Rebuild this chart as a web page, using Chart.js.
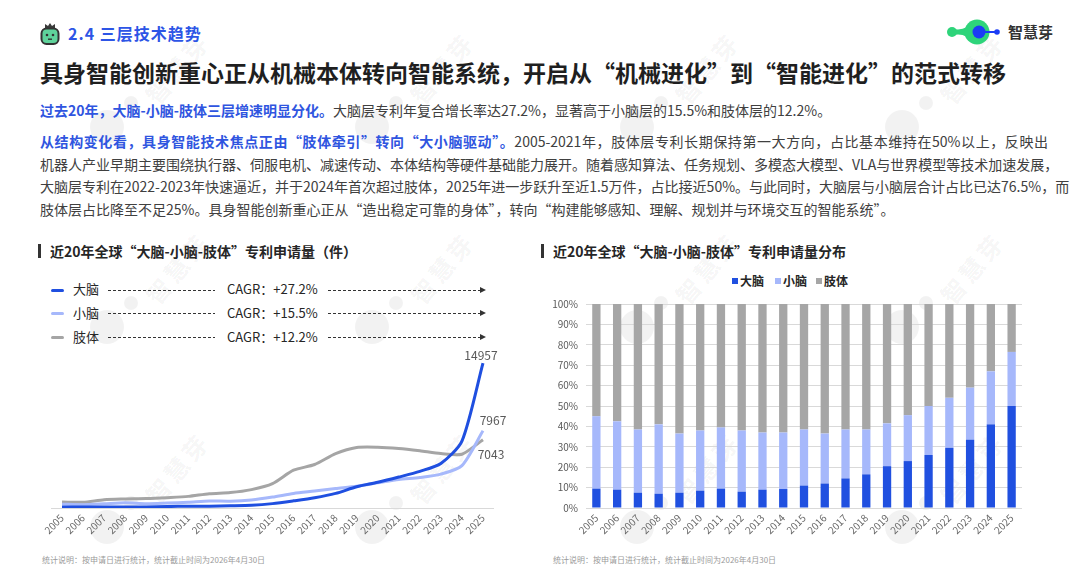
<!DOCTYPE html>
<html lang="zh-CN">
<head>
<meta charset="utf-8">
<script src="https://cdn.jsdelivr.net/npm/chart.js@4.4.1/dist/chart.umd.min.js"></script>
<style>
  html, body { margin: 0; padding: 0; }
  body {
    width: 1080px; height: 570px; position: relative; overflow: hidden;
    background: #fff; font-family: "Noto Sans CJK SC", "Noto Sans", sans-serif; color: #404040;
  }
  .abs { position: absolute; white-space: nowrap; }
  .wm { position: absolute; font-size: 24px; font-weight: 700; color: rgba(0,0,0,0.055);
        transform: rotate(-50deg); letter-spacing: 4px; }
  .blob { position: absolute; width: 34px; height: 34px; border-radius: 50%; background: rgba(0,0,0,0.05); }
  .blob::after { content: ""; position: absolute; width: 14px; height: 14px; border-radius: 50%;
        background: rgba(0,0,0,0.05); left: 34px; top: -14px; }
  .para { position: absolute; left: 40px; width: 1008px; font-size: 14px; line-height: 22.5px; }
  .para div { text-align: justify; text-align-last: justify; white-space: nowrap; }
  .para div.last { text-align-last: left; }
  .hl { color: #2f55e0; font-weight: 700; }
  .ctitle { font-size: 14px; font-weight: 700; color: #262626; line-height: 20px; }
  .cbar { position: absolute; width: 3px; height: 14px; background: #333; }
  .lg-mark { position: absolute; width: 13px; height: 3px; border-radius: 2px; }
  .lg-text { font-size: 13px; color: #262626; line-height: 18px; }
  .dots { position: absolute; height: 1px;
          background-image: linear-gradient(to right, #333 55%, transparent 55%); background-size: 5px 1px; }
  .arrow { position: absolute; width: 0; height: 0; border-top: 3.5px solid transparent;
           border-bottom: 3.5px solid transparent; border-left: 6px solid #333; }
  .sq { position: absolute; width: 6px; height: 6px; }
  .foot { font-size: 8px; color: #9a9a9a; line-height: 12px; }
</style>
</head>
<body>
<div id="wm"></div>

<!-- header -->
<svg class="abs" style="left:40px;top:22px" width="20" height="24" viewBox="0 0 20 24">
  <path d="M5 6 L5 2 L8 4 L10 1 L12 4 L15 2 L15 6 Z" fill="#3a3a3a"/>
  <rect x="1.5" y="6.5" width="17" height="15.5" rx="5" fill="#5fd39b" stroke="#333" stroke-width="2"/>
  <circle cx="7" cy="13" r="1.3" fill="#333"/>
  <circle cx="13" cy="13" r="1.3" fill="#333"/>
  <rect x="8" y="16.5" width="4" height="1.4" fill="#333"/>
</svg>
<div class="abs" style="left:68px;top:23px;font-size:16px;font-weight:700;color:#2d55e6;letter-spacing:1px;line-height:20px">2.4 三层技术趋势</div>

<svg class="abs" style="left:945px;top:19px" width="60" height="26" viewBox="0 0 60 26">
  <circle cx="7" cy="13" r="5" fill="#2ed47a"/>
  <path d="M7 9.5 Q15 12 22 8 L22 18 Q15 14 7 16.5 Z" fill="#2ed47a"/>
  <circle cx="32" cy="13" r="12.5" fill="#2ed47a"/>
  <circle cx="34" cy="13" r="6.5" fill="#1b3cf5"/>
  <rect x="38" y="12" width="12" height="2" fill="#1b3cf5"/>
  <circle cx="52" cy="13" r="2.8" fill="#1b3cf5"/>
</svg>
<div class="abs" style="left:1008px;top:22px;font-size:15px;font-weight:700;color:#333;line-height:20px">智慧芽</div>

<div class="abs" style="left:40px;top:58px;font-size:23px;font-weight:700;color:#1f1f1f;line-height:28px">具身智能创新重心正从机械本体转向智能系统，开启从“机械进化”到“智能进化”的范式转移</div>

<div class="para" style="top:99px">
  <div class="last"><span class="hl">过去20年，大脑-小脑-肢体三层增速明显分化。</span>大脑层专利年复合增长率达27.2%，显著高于小脑层的15.5%和肢体层的12.2%。</div>
</div>
<div class="para" style="top:130px">
  <div><span class="hl">从结构变化看，具身智能技术焦点正由“肢体牵引”转向“大小脑驱动”。</span>2005-2021年，肢体层专利长期保持第一大方向，占比基本维持在50%以上，反映出</div>
  <div>机器人产业早期主要围绕执行器、伺服电机、减速传动、本体结构等硬件基础能力展开。随着感知算法、任务规划、多模态大模型、VLA与世界模型等技术加速发展，</div>
  <div>大脑层专利在2022-2023年快速逼近，并于2024年首次超过肢体，2025年进一步跃升至近1.5万件，占比接近50%。与此同时，大脑层与小脑层合计占比已达76.5%，而</div>
  <div class="last">肢体层占比降至不足25%。具身智能创新重心正从“造出稳定可靠的身体”，转向“构建能够感知、理解、规划并与环境交互的智能系统”。</div>
</div>

<!-- left chart -->
<div class="cbar" style="left:38px;top:244px"></div>
<div class="abs ctitle" style="left:50px;top:241px">近20年全球“大脑-小脑-肢体”专利申请量（件）</div>

<div class="lg-mark" style="left:51px;top:289px;background:#1f4fe0"></div>
<div class="abs lg-text" style="left:73px;top:280px">大脑</div>
<div class="dots" style="left:108px;top:290px;width:107px"></div>
<div class="abs lg-text" style="left:227px;top:280px">CAGR：+27.2%</div>
<div class="dots" style="left:328px;top:290px;width:152px"></div>
<div class="arrow" style="left:480px;top:287px"></div>

<div class="lg-mark" style="left:51px;top:312px;background:#a6b8fb"></div>
<div class="abs lg-text" style="left:73px;top:304px">小脑</div>
<div class="dots" style="left:108px;top:313px;width:107px"></div>
<div class="abs lg-text" style="left:227px;top:304px">CAGR：+15.5%</div>
<div class="dots" style="left:328px;top:313px;width:152px"></div>
<div class="arrow" style="left:480px;top:310px"></div>

<div class="lg-mark" style="left:51px;top:336px;background:#a5a5a5"></div>
<div class="abs lg-text" style="left:73px;top:328px">肢体</div>
<div class="dots" style="left:108px;top:337px;width:107px"></div>
<div class="abs lg-text" style="left:227px;top:328px">CAGR：+12.2%</div>
<div class="dots" style="left:328px;top:337px;width:152px"></div>
<div class="arrow" style="left:480px;top:334px"></div>

<div class="abs" style="left:30px;top:340px;width:480px;height:205px"><canvas id="lineChart"></canvas></div>
<div class="abs foot" style="left:42px;top:554px">统计说明：按申请日进行统计，统计截止时间为2026年4月30日</div>

<!-- right chart -->
<div class="cbar" style="left:541px;top:244px"></div>
<div class="abs ctitle" style="left:553px;top:241px">近20年全球“大脑-小脑-肢体”专利申请量分布</div>

<div class="sq" style="left:732px;top:278px;background:#2050e0"></div>
<div class="abs" style="left:740px;top:272px;font-size:12px;font-weight:700;color:#262626;line-height:18px">大脑</div>
<div class="sq" style="left:775px;top:278px;background:#a6b8fb"></div>
<div class="abs" style="left:783px;top:272px;font-size:12px;font-weight:700;color:#262626;line-height:18px">小脑</div>
<div class="sq" style="left:816px;top:278px;background:#a6a6a6"></div>
<div class="abs" style="left:824px;top:272px;font-size:12px;font-weight:700;color:#262626;line-height:18px">肢体</div>

<div class="abs" style="left:540px;top:290px;width:490px;height:255px"><canvas id="barChart"></canvas></div>
<div class="abs foot" style="left:553px;top:554px">统计说明：按申请日进行统计，统计截止时间为2026年4月30日</div>

<script>
const YEARS = ['2005', '2006', '2007', '2008', '2009', '2010', '2011', '2012', '2013', '2014', '2015',
    '2016', '2017', '2018', '2019', '2020', '2021', '2022', '2023', '2024', '2025'];

// patent counts
const BRAIN = [107, 92, 105, 110, 115, 147, 188, 191, 227, 280, 451, 737, 1059, 1508, 2190, 2650, 3193, 3784, 4592, 6895, 14957];
const CEREBELLUM = [400, 344, 433, 536, 443, 509, 595, 716, 707, 835, 1127, 1505, 1752, 2010, 2244, 2593, 2947, 3142, 3495, 4373, 7967];
const LIMB = [620, 590, 860, 930, 970, 1070, 1200, 1480, 1590, 1900, 2520, 3900, 4490, 5620, 6250, 6280, 6140, 5900, 5620, 5550, 7043];

// share, %
const BRAIN_PCT = [9.5, 9, 7.5, 7, 7.5, 8.5, 9.5, 8, 9, 9.3, 11, 12, 14.5, 16.5, 20.5, 23, 26, 29.5, 33.5, 41, 50];
const CEREBELLUM_PCT = [35.5, 33.5, 31, 34, 29, 29.5, 30, 30, 28, 27.7, 27.5, 24.5, 24, 22, 21, 22.5, 24, 24.5, 25.5, 26, 26.5];
const LIMB_PCT = [55, 57.5, 61.5, 59, 63.5, 62, 60.5, 62, 63, 63, 61.5, 63.5, 61.5, 61.5, 58.5, 54.5, 50, 46, 41, 33, 23.5];

const BLUE = '#1f4fe0';
const LIGHT = '#a6b8fb';
const GRAY = '#a5a5a5';
const FONT = '"Noto Sans CJK SC", "Noto Sans", sans-serif';

// faint watermark tiles
const wm = document.getElementById('wm');
for (let r = 0; r < 3; r++) {
    for (let c = 0; c < 4; c++) {
        const x = 135 + c * 265, y = 50 + r * 200;
        const t = document.createElement('div');
        t.className = 'wm';
        t.textContent = '智慧芽';
        t.style.left = x + 'px';
        t.style.top = y + 'px';
        wm.appendChild(t);
        const b = document.createElement('div');
        b.className = 'blob';
        b.style.left = (x - 45) + 'px';
        b.style.top = (y + 60) + 'px';
        wm.appendChild(b);
    }
}

// value at the end of each line
const END_OFFSETS = {'大脑': [-2, -8], '小脑': [10, -10], '肢体': [8, 15]};
const endLabels = {
    id: 'endLabels',
    afterDatasetsDraw(chart) {
        const ctx = chart.ctx;
        ctx.save();
        ctx.font = '12px ' + FONT;
        ctx.fillStyle = '#595959';
        ctx.textAlign = 'center';
        ctx.textBaseline = 'middle';
        chart.data.datasets.forEach((ds, i) => {
            const pts = chart.getDatasetMeta(i).data;
            const p = pts[pts.length - 1];
            const [dx, dy] = END_OFFSETS[ds.label];
            ctx.fillText(String(ds.data[ds.data.length - 1]), p.x + dx, p.y + dy);
        });
        ctx.restore();
    }
};

const tickFont = {family: FONT, size: 10};

new Chart(document.getElementById('lineChart'), {
    type: 'line',
    data: {
        labels: YEARS,
        datasets: [
            {label: '大脑', data: BRAIN, borderColor: BLUE, backgroundColor: BLUE},
            {label: '小脑', data: CEREBELLUM, borderColor: LIGHT, backgroundColor: LIGHT},
            {label: '肢体', data: LIMB, borderColor: GRAY, backgroundColor: GRAY},
        ]
    },
    options: {
        responsive: true,
        maintainAspectRatio: false,
        animation: false,
        layout: {padding: {top: 13, left: 21.5, right: 16.5, bottom: 0}},
        elements: {
            line: {borderWidth: 3, tension: 0.25},
            point: {radius: 0}
        },
        scales: {
            x: {
                offset: true,
                grid: {display: false, drawTicks: false},
                border: {display: true, color: '#d9d9d9', width: 1},
                ticks: {color: '#666', font: tickFont, minRotation: 45, maxRotation: 45, padding: 4, autoSkip: false},
                afterFit: axis => { axis.height = 37; }
            },
            y: {display: false, min: 0, max: 16000}
        },
        plugins: {legend: {display: false}, tooltip: {enabled: false}}
    },
    plugins: [endLabels]
});

new Chart(document.getElementById('barChart'), {
    type: 'bar',
    data: {
        labels: YEARS,
        datasets: [
            {label: '大脑', data: BRAIN_PCT, backgroundColor: '#2050e0'},
            {label: '小脑', data: CEREBELLUM_PCT, backgroundColor: LIGHT},
            {label: '肢体', data: LIMB_PCT, backgroundColor: '#a6a6a6'},
        ]
    },
    options: {
        responsive: true,
        maintainAspectRatio: false,
        animation: false,
        layout: {padding: {top: 8, left: 0, right: 8, bottom: 0}},
        datasets: {bar: {categoryPercentage: 1, barPercentage: 0.4}},
        scales: {
            x: {
                stacked: true,
                grid: {display: false, drawTicks: false},
                border: {display: false},
                ticks: {color: '#666', font: tickFont, minRotation: 45, maxRotation: 45, padding: 4, autoSkip: false},
                afterFit: axis => { axis.height = 37; }
            },
            y: {
                stacked: true,
                min: 0,
                max: 100,
                grid: {color: '#d9d9d9', drawTicks: false},
                border: {display: false},
                ticks: {stepSize: 10, color: '#595959', font: tickFont, padding: 8, callback: v => v + '%'},
                afterFit: axis => { axis.width = 46; }
            }
        },
        plugins: {legend: {display: false}, tooltip: {enabled: false}}
    }
});
</script>
</body>
</html>
